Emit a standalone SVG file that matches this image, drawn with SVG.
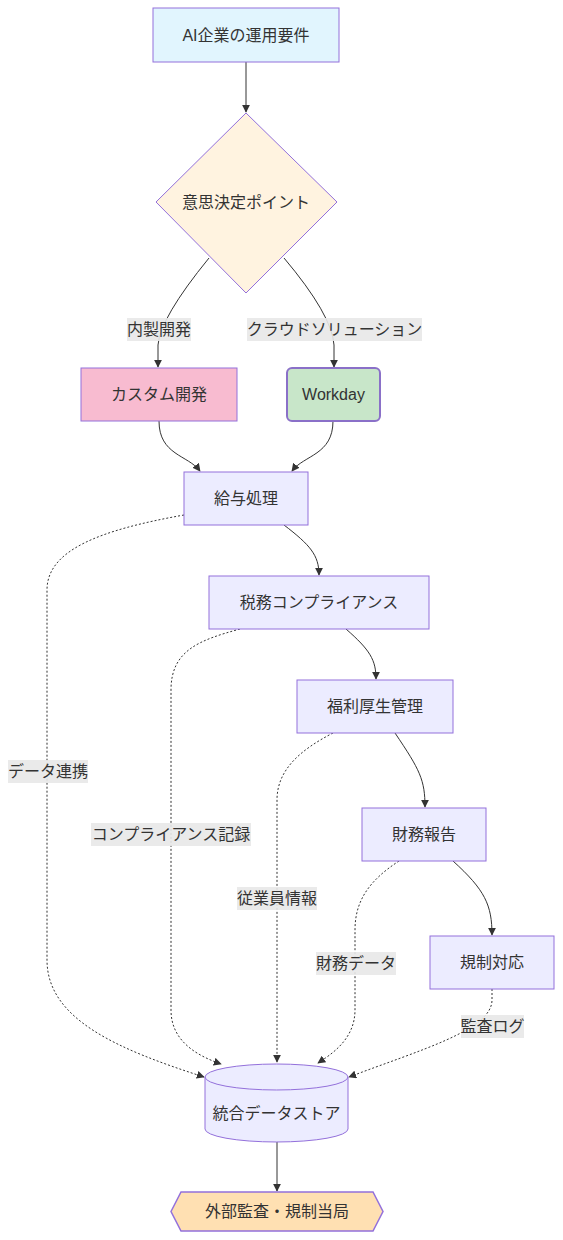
<svg xmlns="http://www.w3.org/2000/svg" width="563" height="1240" viewBox="0 0 563 1240">
<style>
text{font-family:"Liberation Sans","Noto Sans CJK JP",sans-serif;font-size:16px;fill:#333;text-anchor:middle;dominant-baseline:central}
.n{fill:#ECECFF;stroke:#9370DB;stroke-width:1}
.e{fill:none;stroke:#333;stroke-width:1}
.d{fill:none;stroke:#333;stroke-width:1;stroke-dasharray:2 2}
.lb{fill:#e8e8e8;opacity:0.9}
</style>
<defs>
<marker id="a" viewBox="0 0 10 10" refX="9" refY="5" markerWidth="8" markerHeight="8" markerUnits="userSpaceOnUse" orient="auto">
<path d="M0,0 L10,5 L0,10 z" fill="#333"/>
</marker>
</defs>
<g id="edges">
<path class="e" d="M246,62 L246,112" marker-end="url(#a)"/>
<path class="e" d="M209,258 Q160,318 158,345 L158,367" marker-end="url(#a)"/>
<path class="e" d="M284,258 Q332,315 334,345 L334,367" marker-end="url(#a)"/>
<path class="e" d="M159,421 C159,455 188,455 200,471" marker-end="url(#a)"/>
<path class="e" d="M333,421 C333,455 304,455 292,471" marker-end="url(#a)"/>
<path class="e" d="M284,525 C310,545 319,555 319,575" marker-end="url(#a)"/>
<path class="e" d="M346,629 C370,650 376,660 376,679" marker-end="url(#a)"/>
<path class="e" d="M395,733 C420,770 425,780 425,807" marker-end="url(#a)"/>
<path class="e" d="M453,861 C485,890 492,905 492,935" marker-end="url(#a)"/>
<path class="d" d="M184,515 C100,530 47,550 47,590 L47,960 C47,1020 120,1050 204,1077" marker-end="url(#a)"/>
<path class="d" d="M240,629 C200,640 171,650 171,690 L171,1010 C171,1040 195,1055 221,1064" marker-end="url(#a)"/>
<path class="d" d="M333,733 C300,750 277,770 277,800 L277,1062" marker-end="url(#a)"/>
<path class="d" d="M399,861 C370,880 355,900 355,930 L355,1010 C355,1040 330,1055 318,1063" marker-end="url(#a)"/>
<path class="d" d="M492,989 L492,1000 C492,1030 420,1050 349,1077" marker-end="url(#a)"/>
<path class="e" d="M277,1142 L277,1191" marker-end="url(#a)"/>
<rect class="lb" x="127" y="318" width="64" height="23"/>
<text x="159" y="329">内製開発</text>
<rect class="lb" x="247" y="318" width="175" height="23"/>
<text x="334.5" y="329">クラウドソリューション</text>
<rect class="lb" x="8" y="760" width="80" height="23"/>
<text x="48" y="771">データ連携</text>
<rect class="lb" x="91" y="823" width="160" height="23"/>
<text x="171" y="834">コンプライアンス記録</text>
<rect class="lb" x="237" y="887" width="80" height="23"/>
<text x="277" y="898">従業員情報</text>
<rect class="lb" x="316" y="952" width="80" height="23"/>
<text x="356" y="963">財務データ</text>
<rect class="lb" x="461" y="1015" width="63" height="23"/>
<text x="492.5" y="1026">監査ログ</text>
</g>
<g id="n1"><rect x="153" y="8" width="186" height="54" fill="#e1f5fe" stroke="#9370DB"/><text x="246" y="35">AI企業の運用要件</text></g>
<g id="n2"><polygon points="246,113 337,202 246,293 156,202" fill="#fff3e0" stroke="#9370DB"/><text x="246" y="202">意思決定ポイント</text></g>
<g id="n3"><rect x="81" y="368" width="156" height="53" fill="#f8bbd0" stroke="#9370DB"/><text x="159" y="394.5">カスタム開発</text></g>
<g id="n4"><rect x="287" y="368" width="93" height="53" rx="5" fill="#c8e6c9" stroke="#8a70c8" stroke-width="2"/><text x="333.5" y="394.5">Workday</text></g>
<g id="n5"><rect class="n" x="184" y="472" width="124" height="53"/><text x="246" y="498.5">給与処理</text></g>
<g id="n6"><rect class="n" x="209" y="576" width="220" height="53"/><text x="319" y="602.5">税務コンプライアンス</text></g>
<g id="n7"><rect class="n" x="297" y="680" width="156" height="53"/><text x="375" y="706.5">福利厚生管理</text></g>
<g id="n8"><rect class="n" x="362" y="808" width="124" height="53"/><text x="424" y="834.5">財務報告</text></g>
<g id="n9"><rect class="n" x="430" y="936" width="124" height="53"/><text x="492" y="962.5">規制対応</text></g>
<g id="n10"><path class="n" d="M205,1077 a71.5,13 0 0 0 143,0 a71.5,13 0 0 0 -143,0 l0,52 a71.5,13 0 0 0 143,0 l0,-52"/><text x="276.5" y="1113">統合データストア</text></g>
<g id="n11"><polygon points="171,1211.5 181,1192 373,1192 383,1211.5 373,1231 181,1231" fill="#ffe0b2" stroke="#9370DB" stroke-width="1.5"/><text x="277" y="1211.5">外部監査・規制当局</text></g>
</svg>
